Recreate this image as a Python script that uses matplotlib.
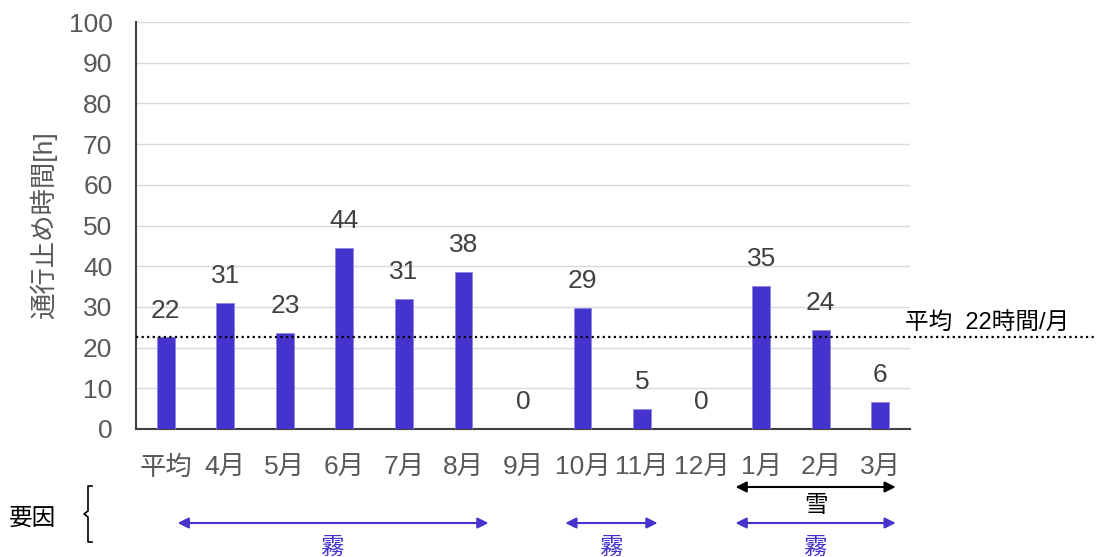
import matplotlib.pyplot as plt
from matplotlib.lines import Line2D

plt.rcParams['font.family'] = ['Liberation Sans', 'Noto Sans CJK JP']

# months (平均 = average column first)
months = ["平均", "4月", "5月", "6月", "7月", "8月", "9月", "10月", "11月", "12月", "1月", "2月", "3月"]
hours = [22.5, 31, 23.7, 44.5, 32, 38.5, 0, 29.8, 4.9, 0, 35.2, 24.3, 6.6]
hour_labels = ["22", "31", "23", "44", "31", "38", "0", "29", "5", "0", "35", "24", "6"]
avg_hours = 22.6

# cause ranges (start, end in category units)
fog_ranges = [(0.2, 5.42), (6.71, 8.26), (9.57, 12.26)]
snow_range = (9.57, 12.26)

bar_color = "#4433cc"
gray = "#595959"

fig = plt.figure(figsize=(10.97, 5.57), dpi=100)
ax = fig.add_axes([136 / 1097, 1 - 429 / 557, 774 / 1097, 407 / 557])

x = list(range(len(months)))
ax.bar(x, hours, width=0.30, color=bar_color, edgecolor="#8f86e0", linewidth=0.6, zorder=3)
for xi, h, lab in zip(x, hours, hour_labels):
    ax.text(xi, h + 6.6, lab, ha="center", va="center", fontsize=19, color="#404040")

ax.set_xlim(-0.5, len(months) - 0.5)
ax.set_ylim(0, 100)
ax.set_yticks(range(0, 101, 10))
ax.set_xticks(x)
ax.set_xticklabels(months)
ax.tick_params(axis="both", length=0, labelsize=19, colors=gray)
ax.tick_params(axis="x", pad=19)
ax.tick_params(axis="y", pad=17)
ax.grid(axis="y", color="#d9d9d9", linewidth=1, zorder=0)
for s in ["top", "right"]:
    ax.spines[s].set_visible(False)
ax.spines["left"].set_color("#404040")
ax.spines["bottom"].set_color("#404040")
ax.spines["left"].set_linewidth(1.5)
ax.spines["bottom"].set_linewidth(1.5)
ax.set_ylabel("通行止め時間[h]", fontsize=19, color=gray, labelpad=8)

# average line, extends past the plot area
ax.axhline(avg_hours, xmin=0, xmax=(1097 - 136) / 774, color="black", linestyle=(0, (1, 1.5)),
           linewidth=1.6, zorder=4, clip_on=False)
ax.text(12.42, avg_hours + 3.5, "平均  22時間/月", fontsize=17, ha="left", va="center")

# cause annotations below the axis
tr = ax.get_xaxis_transform()
for a, b in fog_ranges:
    ax.annotate("", xy=(a, -0.231), xytext=(b, -0.231), xycoords=tr, textcoords=tr,
                arrowprops=dict(arrowstyle="<|-|>", color=bar_color, lw=1.5,
                                mutation_scale=16, shrinkA=0, shrinkB=0),
                annotation_clip=False)
    ax.text((a + b) / 2, -0.292, "霧", transform=tr, ha="center", va="center",
            fontsize=17, color=bar_color)

ax.annotate("", xy=(snow_range[0], -0.1425), xytext=(snow_range[1], -0.1425), xycoords=tr,
            textcoords=tr,
            arrowprops=dict(arrowstyle="<|-|>", color="black", lw=1.5,
                            mutation_scale=16, shrinkA=0, shrinkB=0),
            annotation_clip=False)
ax.text(sum(snow_range) / 2, -0.19, "雪", transform=tr, ha="center", va="center",
        fontsize=17, color="black")

fig.text(32 / 1097, 1 - 519 / 557, "要因", ha="center", va="center", fontsize=17)

# thin bracket next to 要因
bx = [92, 88, 88, 84, 88, 88, 92]
by = [486, 486, 511, 514, 517, 542, 542]
fig.add_artist(Line2D([v / 1097 for v in bx], [1 - v / 557 for v in by],
                      transform=fig.transFigure, color="black", linewidth=1.2))

fig.savefig("out.png", dpi=100)
